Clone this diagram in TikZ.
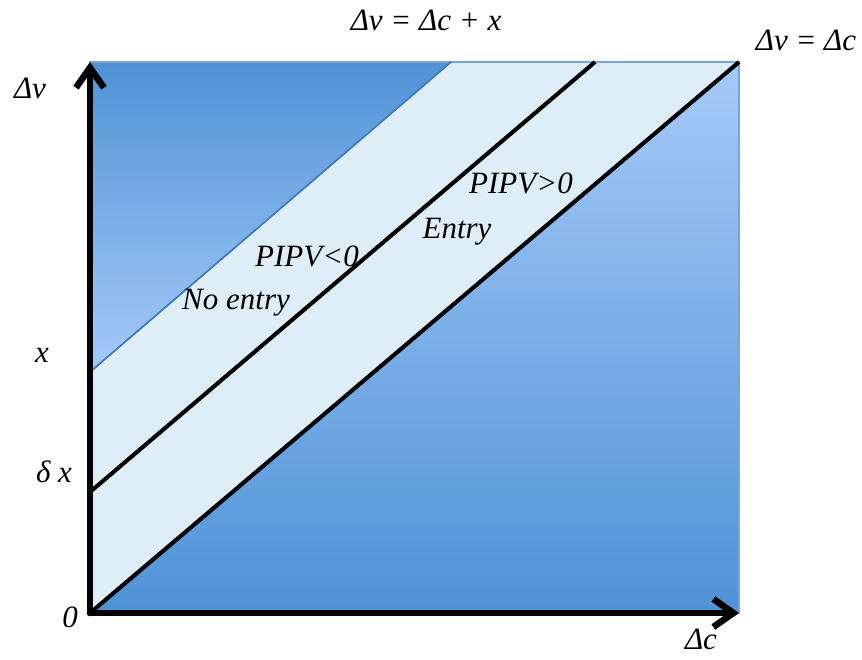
\documentclass[tikz,border=0pt]{standalone}
\usepackage{fontspec}
\setmainfont{Liberation Serif}
\usetikzlibrary{arrows.meta}
\definecolor{deepblue}{HTML}{4F93D6}
\definecolor{paleblue}{HTML}{A6CAF8}
\definecolor{bandblue}{HTML}{DFEEF6}
\definecolor{edgeblue}{HTML}{78A6DA}
\definecolor{rimblue}{HTML}{3F7BBF}
\tikzset{
  axis/.style={line width=6.5pt, line cap=round, -{Straight Barb[length=20pt,width=28pt]}},
  border/.style={line width=4pt},
  shadowed/.style={black, opacity=0.22, shift={(1.5,3)}},
  lbl/.style={font=\fontsize{31}{35}\selectfont\itshape, inner sep=0pt}
}
\begin{document}
\begin{tikzpicture}[x=1pt,y=-1pt]
	\useasboundingbox (0,0) rectangle (862,659);
	\coordinate (O) at (90,613);
	\coordinate (TL) at (90,62);
	\coordinate (TR) at (739,62);
	\coordinate (BR) at (739,613);
	\coordinate (dx) at (90,492);
	\coordinate (xx) at (90,372);
	\coordinate (midtop) at (595,62);
	\coordinate (uptop) at (451,62);
	
	% Regions
	\fill[bandblue] (TL) rectangle (BR);
	\shade[top color=deepblue, bottom color=paleblue] (TL) -- (uptop) -- (xx) -- cycle;
	\shade[top color=paleblue, bottom color=deepblue] (O) -- (TR) -- (BR) -- cycle;
	\draw[edgeblue, line width=1.2pt] (TL) rectangle (BR);
	
	% Lines
	\draw[rimblue, line width=1.8pt] (xx) -- (uptop);
	\draw[border, shadowed] (dx) -- (midtop);
	\draw[border, shadowed] (O) -- (TR);
	\draw[border] (dx) -- (midtop);
	\draw[border] (O) -- (TR);
	
	% Axes
	\draw[axis, shadowed] (O) -- (TL);
	\draw[axis, shadowed] (O) -- (BR);
	\draw[axis] (O) -- (TL);
	\draw[axis] (O) -- (BR);
	
	% Labels
	\node[lbl] (top) at (426,20) {Δv = Δc + x};
	\node[lbl] (diag) at (806,40) {Δv = Δc};
	\node[lbl] (yl) at (30,88) {Δv};
	\node[lbl] (xl) at (701,639) {Δc};
	\node[lbl] (xmark) at (42,355) {x};
	\node[lbl] (dmark) at (54,472) {δ x};
	\node[lbl] (zero) at (70,617) {0};
	\node[lbl] (pos) at (521,183) {PIPV>0};
	\node[lbl] (entry) at (457,232) {Entry};
	\node[lbl] (neg) at (307,256) {PIPV<0};
	\node[lbl] (noentry) at (236,303) {No entry};
\end{tikzpicture}
\end{document}
